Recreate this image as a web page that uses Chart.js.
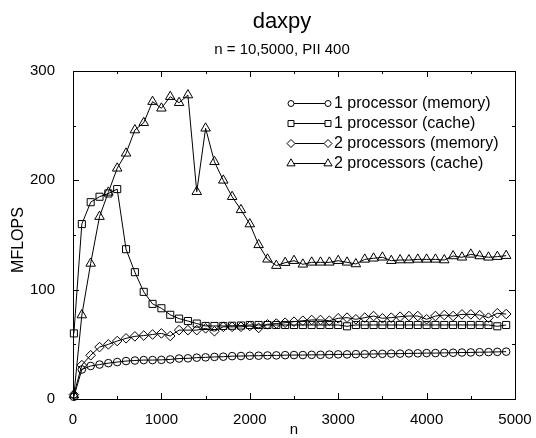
<!DOCTYPE html>
<html>
<head>
<meta charset="utf-8">
<script src="https://cdn.jsdelivr.net/npm/chart.js@4/dist/chart.umd.min.js"></script>
<style>
  html, body { margin: 0; padding: 0; background: #fff; }
  #wrap { width: 536px; height: 438px; }
</style>
</head>
<body>
<div id="wrap"><canvas id="chart" width="536" height="438"></canvas></div>
<script>
const FONT = '"Liberation Sans", Arial, Helvetica, sans-serif';

const nValues = [10, 100, 200, 300, 400, 500, 600, 700, 800, 900,
    1000, 1100, 1200, 1300, 1400, 1500, 1600, 1700, 1800, 1900,
    2000, 2100, 2200, 2300, 2400, 2500, 2600, 2700, 2800, 2900,
    3000, 3100, 3200, 3300, 3400, 3500, 3600, 3700, 3800, 3900,
    4000, 4100, 4200, 4300, 4400, 4500, 4600, 4700, 4800, 4900];

const oneMemory = [2, 27, 30.2, 31.5, 32.8, 33.8, 34.7, 35.2, 35.6, 35.6,
    35.8, 36.2, 37, 37.2, 37.8, 38.1, 38.5, 38.7, 39.2, 39.3,
    39.5, 39.6, 39.8, 39.9, 40.1, 40.2, 40.2, 40.4, 40.4, 40.6,
    40.8, 40.8, 41, 41, 41.2, 41.3, 41.5, 41.5, 41.7, 41.8,
    42, 42, 42.2, 42.3, 42.5, 42.6, 42.8, 42.9, 43.1, 43.3];

const oneCache = [60, 160, 180, 185, 188, 192, 137, 116, 98, 87,
    83, 77, 73.5, 71.3, 69, 66.8, 66.8, 66.8, 67, 67.2,
    67.7, 67.7, 67.7, 67.7, 67.7, 67.7, 67.7, 67.7, 67.7, 67.7,
    67.7, 66.5, 67.7, 67.7, 67.7, 67.7, 67.7, 67.7, 67.7, 67.7,
    67.7, 67.7, 67.7, 67.7, 67.7, 67.7, 67.7, 67.7, 66.5, 67.7];

const twoMemory = [4, 31, 40, 47.5, 50, 53, 55.5, 57.3, 58, 59,
    60, 57.6, 63, 63, 63, 64.6, 62, 66, 66, 66,
    66.8, 65, 68.3, 69, 69.8, 70.7, 71.6, 72.3, 72.3, 71.6,
    73.8, 74.4, 72.9, 74.4, 75.9, 73.8, 74.4, 75.3, 75.9, 75.9,
    72.9, 75.9, 76.8, 75.9, 77.4, 77.4, 76.8, 74.4, 78.4, 77.7];

const twoCache = [3.6, 76.8, 124, 166.8, 189, 211, 224.7, 246, 252.7, 272,
    265.9, 276.5, 271, 278, 189.6, 247.6, 217, 200, 185, 173,
    160, 141, 127.8, 122, 124.7, 126.5, 123.2, 125, 125, 125,
    126.5, 125, 123.5, 127.7, 128.7, 129.6, 126.5, 127.1, 127.1, 127.7,
    127.7, 127.7, 127.1, 130.8, 129.6, 132.3, 130.8, 129.6, 130.2, 131.1];

const seriesNames = ['1 processor (memory)', '1 processor (cache)',
    '2 processors (memory)', '2 processors (cache)'];
const seriesValues = [oneMemory, oneCache, twoMemory, twoCache];
const markers = ['circle', 'rect', 'rectRot', 'triangle'];
const markerSizes = [3.8, 5, 4.8, 5.5];

const xTicks = [0, 1000, 2000, 3000, 4000, 5000];
const yTicks = [0, 100, 200, 300];

// gnuplot style frame, inward ticks, titles and key
const decor = {
    id: 'decor',
    afterDraw(chart) {
        const ctx = chart.ctx;
        const a = chart.chartArea;
        const xs = chart.scales.x, ys = chart.scales.y;
        ctx.save();
        ctx.strokeStyle = '#000';
        ctx.lineWidth = 1;
        ctx.strokeRect(Math.round(a.left) + 0.5, Math.round(a.top) + 0.5,
            Math.round(a.right - a.left), Math.round(a.bottom - a.top));
        ctx.beginPath();
        for (let v = 0; v <= 5000; v += 500) {
            const px = Math.round(xs.getPixelForValue(v)) + 0.5;
            const len = v % 1000 === 0 ? 6 : 3;
            ctx.moveTo(px, a.bottom); ctx.lineTo(px, a.bottom - len);
            ctx.moveTo(px, a.top); ctx.lineTo(px, a.top + len);
        }
        for (let v = 0; v <= 300; v += 50) {
            const py = Math.round(ys.getPixelForValue(v)) + 0.5;
            const len = v % 100 === 0 ? 6 : 3;
            ctx.moveTo(a.left, py); ctx.lineTo(a.left + len, py);
            ctx.moveTo(a.right, py); ctx.lineTo(a.right - len, py);
        }
        ctx.stroke();

        ctx.fillStyle = '#000';
        ctx.textAlign = 'center';
        ctx.textBaseline = 'alphabetic';
        ctx.font = '22px ' + FONT;
        ctx.fillText('daxpy', 282, 28);
        ctx.font = '15px ' + FONT;
        ctx.fillText('n = 10,5000, PII 400', 282, 54);
        ctx.font = '15px ' + FONT;
        ctx.fillText('n', 294, 434);
        ctx.save();
        ctx.translate(23, 240);
        ctx.rotate(-Math.PI / 2);
        ctx.font = '16px ' + FONT;
        ctx.fillText('MFLOPS', 0, 0);
        ctx.restore();

        // key
        ctx.textAlign = 'left';
        ctx.textBaseline = 'middle';
        ctx.font = '16px ' + FONT;
        seriesNames.forEach((name, i) => {
            const y = 103 + i * 20;
            ctx.beginPath();
            ctx.moveTo(291, y + 0.5); ctx.lineTo(328, y + 0.5);
            ctx.stroke();
            const opts = { pointStyle: markers[i], radius: markerSizes[i] - 0.8, rotation: 0, borderWidth: 1 };
            ctx.fillStyle = '#fff';
            Chart.helpers.drawPoint(ctx, opts, 291, y + 0.5);
            Chart.helpers.drawPoint(ctx, opts, 328, y + 0.5);
            ctx.fillStyle = '#000';
            ctx.fillText(name, 334, y + 1);
        });
        ctx.restore();
    }
};

new Chart(document.getElementById('chart'), {
    type: 'line',
    data: {
        datasets: seriesValues.map((vals, i) => ({
            label: seriesNames[i],
            data: nValues.map((n, k) => ({ x: n, y: vals[k] })),
            borderColor: '#000',
            borderWidth: 1,
            tension: 0,
            pointStyle: markers[i],
            pointRadius: markerSizes[i],
            pointBorderColor: '#000',
            pointBorderWidth: 1,
            pointBackgroundColor: 'rgba(255,255,255,0)',
            clip: false
        }))
    },
    options: {
        responsive: false,
        animation: false,
        layout: { padding: { top: 71, right: 21, left: 0, bottom: 0 } },
        plugins: {
            legend: { display: false },
            title: { display: false },
            tooltip: { enabled: false }
        },
        scales: {
            x: {
                type: 'linear',
                min: 0,
                max: 5000,
                afterFit: s => { s.height = 39; },
                afterBuildTicks: s => { s.ticks = xTicks.map(v => ({ value: v })); },
                grid: { display: false },
                border: { display: false },
                ticks: {
                    autoSkip: false,
                    maxRotation: 0,
                    padding: 4,
                    color: '#000',
                    font: { family: FONT, size: 15 },
                    callback: v => String(v)
                }
            },
            y: {
                min: 0,
                max: 300,
                afterFit: s => { s.width = 73; },
                afterBuildTicks: s => { s.ticks = yTicks.map(v => ({ value: v })); },
                grid: { display: false },
                border: { display: false },
                ticks: {
                    autoSkip: false,
                    padding: 10,
                    color: '#000',
                    font: { family: FONT, size: 15 },
                    callback: v => String(v)
                }
            }
        }
    },
    plugins: [decor]
});
</script>
</body>
</html>
